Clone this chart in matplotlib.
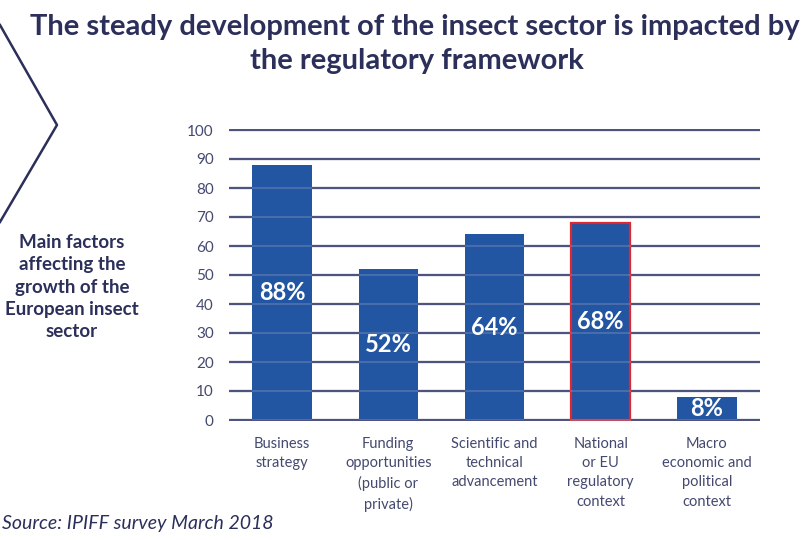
import matplotlib
matplotlib.use("Agg")
import matplotlib.pyplot as plt
from matplotlib.lines import Line2D

categories = ["Business\nstrategy", "Funding\nopportunities\n(public or\nprivate)",
              "Scientific and\ntechnical\nadvancement", "National\nor EU\nregulatory\ncontext",
              "Macro\neconomic and\npolitical\ncontext"]
values = [88, 52, 64, 68, 8]
value_labels = ["88%", "52%", "64%", "68%", "8%"]
yticks = [0, 10, 20, 30, 40, 50, 60, 70, 80, 90, 100]

NAVY = "#2b2f5a"
BAR = "#2356a2"
W, H = 801, 540

plt.rcParams['font.family'] = ['Lato', 'DejaVu Sans']
fig = plt.figure(figsize=(W/100, H/100), dpi=100)

ppu = 2.9
ax_left = 229 / W
ax_right = 760 / W
ax_bottom = 1 - (420 + 0.5*ppu) / H
ax_top = 1 - (130 - 0.5*ppu) / H
ax = fig.add_axes([ax_left, ax_bottom, ax_right - ax_left, ax_top - ax_bottom])
ax.set_ylim(-0.5, 100.5)
ax.set_xlim(-0.5, 4.5)

x = list(range(len(values)))
edges = [BAR, BAR, BAR, "#e0262e", BAR]
lws = [0, 0, 0, 1.6, 0]
ax.bar(x, values, width=0.56, color=BAR, edgecolor=edges, linewidth=lws, zorder=2)
for yv in yticks:
    ax.axhline(yv, color=NAVY, lw=1.6, zorder=1)
    ax.axhline(yv, color="#8a93b8", lw=1.2, alpha=0.45, zorder=3)

for xi, v, lab in zip(x, values, value_labels):
    ax.text(xi, v/2, lab, color="white", ha="center", va="center",
            fontsize=17, fontweight="bold", zorder=4)

ax.set_yticks(yticks)
ax.set_yticklabels([str(t) for t in yticks], fontsize=11, color="#44496f")
ax.tick_params(axis='y', length=0, pad=11)
ax.set_xticks(x)
ax.set_xticklabels(categories, fontsize=10.5, color="#44496f", linespacing=1.48, va="top")
ax.tick_params(axis='x', length=0, pad=11)
for s in ax.spines.values():
    s.set_visible(False)

fig.text(415/W, 1 - 27/H, "The steady development of the insect sector is impacted by",
         ha="center", va="center", fontsize=21, fontweight="bold", color=NAVY)
fig.text(417/W, 1 - 61/H, "the regulatory framework",
         ha="center", va="center", fontsize=21, fontweight="bold", color=NAVY)

fig.text(72/W, 1 - 287/H, "Main factors\naffecting the\ngrowth of the\nEuropean insect\nsector",
         ha="center", va="center", fontsize=13.5, fontweight="bold", color=NAVY, linespacing=1.37)

fig.text(2/W, 1 - 524/H, "Source: IPIFF survey March 2018", ha="left", va="center",
         fontsize=14, style="italic", color=NAVY)

chev = Line2D([0/W, 57/W, 0/W], [1 - 25/H, 1 - 125/H, 1 - 222/H], transform=fig.transFigure,
              color=NAVY, lw=1.8)
fig.add_artist(chev)

fig.savefig("out.png", dpi=100)
